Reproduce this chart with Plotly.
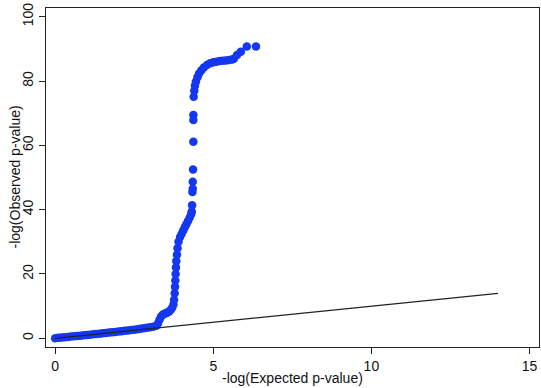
import plotly.graph_objects as go

# Expected -log10(p) values (x) and observed -log10(p) values (y)
expected = [0.00, 0.10, 0.20, 0.30, 0.40, 0.50, 0.60, 0.70, 0.80, 0.90,
            1.00, 1.10, 1.20, 1.30, 1.40, 1.50, 1.60, 1.70, 1.80, 1.90,
            2.00, 2.10, 2.20, 2.30, 2.40, 2.50, 2.60, 2.70, 2.80, 2.90,
            3.00, 3.10, 3.20, 3.25, 3.30, 3.35, 3.40, 3.45, 3.50, 3.55,
            3.60, 3.65, 3.70, 3.74, 3.76, 3.78, 3.79, 3.80, 3.81, 3.82,
            3.83, 3.85, 3.87, 3.90, 3.95, 4.00, 4.05, 4.10, 4.15, 4.20,
            4.25, 4.30, 4.32, 4.33, 4.34, 4.35, 4.35, 4.36, 4.37, 4.37,
            4.37, 4.38, 4.40, 4.42, 4.45, 4.50, 4.55, 4.62, 4.70, 4.80,
            4.90, 5.00, 5.10, 5.20, 5.30, 5.40, 5.50, 5.60, 5.65, 5.75,
            5.87, 6.06, 6.35]
observed = [0.05, 0.14, 0.24, 0.33, 0.43, 0.53, 0.63, 0.73, 0.83, 0.93,
            1.03, 1.13, 1.24, 1.35, 1.45, 1.56, 1.67, 1.78, 1.89, 2.00,
            2.11, 2.22, 2.34, 2.46, 2.58, 2.70, 2.83, 2.96, 3.10, 3.25,
            3.42, 3.62, 3.90, 4.60, 5.80, 6.80, 7.30, 7.60, 7.80, 8.00,
            8.30, 8.80, 9.50, 10.5, 12.0, 14.0, 16.0, 18.0, 20.0, 22.0,
            24.0, 26.0, 28.0, 30.0, 31.5, 32.5, 33.5, 34.5, 35.5, 36.5,
            37.5, 38.6, 39.4, 41.4, 45.5, 46.5, 48.7, 52.5, 61.1, 67.9,
            69.4, 75.1, 77.0, 78.5, 79.8, 81.2, 82.3, 83.3, 84.2, 85.0,
            85.5, 85.8, 86.0, 86.2, 86.3, 86.4, 86.5, 86.7, 86.9, 88.1,
            89.1, 90.7, 90.7]

# Reference (null expectation) line endpoints
ref_x = [0, 14]
ref_y = [0, 14]

x_ticks = [0, 5, 10, 15]
y_ticks = [0, 20, 40, 60, 80, 100]

x_title = "-log(Expected p-value)"
y_title = "-log(Observed p-value)"

FONT = "Liberation Sans, Arial, sans-serif"

fig = go.Figure()
fig.add_trace(go.Scatter(
    x=expected, y=observed, mode="markers",
    marker=dict(color="#1437f2", size=8.5, line=dict(width=0)),
    showlegend=False, hoverinfo="skip"))
fig.add_trace(go.Scatter(
    x=ref_x, y=ref_y, mode="lines",
    line=dict(color="#222222", width=1.2),
    showlegend=False, hoverinfo="skip"))

axis_common = dict(
    showline=True, mirror=True, linecolor="#222222", linewidth=1,
    showgrid=False, zeroline=False, automargin=False,
    ticks="outside", ticklen=6, tickwidth=1, tickcolor="#222222",
    tickfont=dict(family=FONT, size=14, color="#111111"),
)

fig.update_layout(
    width=541, height=388,
    margin=dict(l=46, r=2, t=8, b=41, autoexpand=False),
    paper_bgcolor="white", plot_bgcolor="white",
    font=dict(family=FONT, size=14, color="#111111"),
    xaxis=dict(range=[-0.29, 15.3], tickvals=x_ticks, **axis_common),
    yaxis=dict(range=[-2.7, 102.7], tickvals=y_ticks, tickangle=-90,
               **axis_common),
    annotations=[
        dict(text=x_title, xref="paper", yref="paper", x=0.5, y=-0.0,
             xanchor="center", yanchor="middle", yshift=-31, showarrow=False,
             font=dict(family=FONT, size=14, color="#111111")),
        dict(text=y_title, xref="paper", yref="paper", x=0, y=0.5,
             xanchor="center", yanchor="middle", xshift=-32, textangle=-90,
             showarrow=False,
             font=dict(family=FONT, size=14, color="#111111")),
    ],
)

fig.write_html("out.html",
               config={"displayModeBar": False},
               post_script="document.body.style.margin='0';document.body.style.overflow='hidden';")
